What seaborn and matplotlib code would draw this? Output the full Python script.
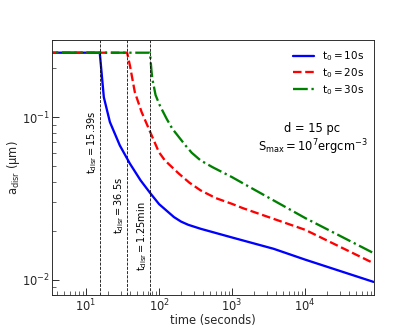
import numpy as np
import matplotlib
matplotlib.use('Agg')
import matplotlib.pyplot as plt
import seaborn as sns

# disruption size vs time
t_10 = [1, 15.39, 17.5, 21.2, 29.0, 39.8, 55.8, 76.6, 100, 160, 200, 250, 370, 1000, 3715, 10000, 86400]
a_10 = [0.25, 0.25, 0.133, 0.0935, 0.0671, 0.0519, 0.0409, 0.0339, 0.0292, 0.0243, 0.0228, 0.0218, 0.0206, 0.0182, 0.0155, 0.0133, 0.0097]

t_20 = [1, 36.5, 39.8, 46.5, 57.5, 74.8, 99.3, 120, 186.6, 260, 370, 600, 1000, 1400, 3000, 10000, 86400]
a_20 = [0.25, 0.25, 0.209, 0.143, 0.108, 0.082, 0.0611, 0.0543, 0.045, 0.0396, 0.0355, 0.0318, 0.0293, 0.0276, 0.0245, 0.0203, 0.01265]

t_30 = [1, 75, 78.5, 80.7, 89.5, 102.6, 126.8, 151.7, 230, 280, 370, 536, 1000, 1443, 10000, 86400]
a_30 = [0.25, 0.25, 0.195, 0.173, 0.137, 0.118, 0.098, 0.0851, 0.0671, 0.0605, 0.0543, 0.0494, 0.0428, 0.039, 0.024, 0.0146]

t_disr = [15.39, 36.5, 75]
disr_labels = [r'$t_{disr} = 15.39$s', r'$t_{disr} = 36.5$s', r'$t_{disr} = 1.25$min']
label_y = [0.0705, 0.0287, 0.0185]

sns.set_style('ticks')
plt.rcParams['mathtext.default'] = 'regular'
plt.rcParams['font.family'] = ['DejaVu Sans']
plt.rcParams['text.color'] = 'black'
plt.rcParams['xtick.direction'] = 'in'
plt.rcParams['ytick.direction'] = 'in'
plt.rcParams['xtick.major.size'] = 6
plt.rcParams['ytick.major.size'] = 6
plt.rcParams['xtick.minor.size'] = 3.5
plt.rcParams['ytick.minor.size'] = 3.5

fig, ax = plt.subplots(figsize=(5, 4), dpi=83)

sns.lineplot(x=t_10, y=a_10, color='blue', lw=2, linestyle='-', label=r'$t_0 = 10$s', ax=ax)
sns.lineplot(x=t_20, y=a_20, color='red', lw=2, linestyle='--', label=r'$t_0 = 20$s', ax=ax)
sns.lineplot(x=t_30, y=a_30, color='green', lw=2, linestyle='-.', label=r'$t_0 = 30$s', ax=ax)

for t, lab, y in zip(t_disr, disr_labels, label_y):
    ax.axvline(t, color='k', linestyle='--', lw=0.7)
    ax.text(t * 0.97, y, lab, rotation=90, ha='right', va='center', fontsize=8.5)

ax.set_xscale('log')
ax.set_yscale('log')
ax.set_xlim(3.4, 86400)
ax.set_ylim(0.008, 0.3)

ax.set_xlabel('time (seconds)', fontsize=10, labelpad=0)
ax.set_ylabel(r'$a_{disr}$ ($\mu$m)', fontsize=10, labelpad=0)

ax.text(0.81, 0.61, 'd = 15 pc\n' + r'$S_{max} = 10^7$ergcm$^{-3}$', transform=ax.transAxes,
        ha='center', va='center', multialignment='center', fontsize=10)

ax.tick_params(which='both', top=False, right=False, labelsize=10, pad=2)

ax.legend(loc='upper right', frameon=False, fontsize=9, labelspacing=0.3)

plt.savefig('out.png', dpi=83)
